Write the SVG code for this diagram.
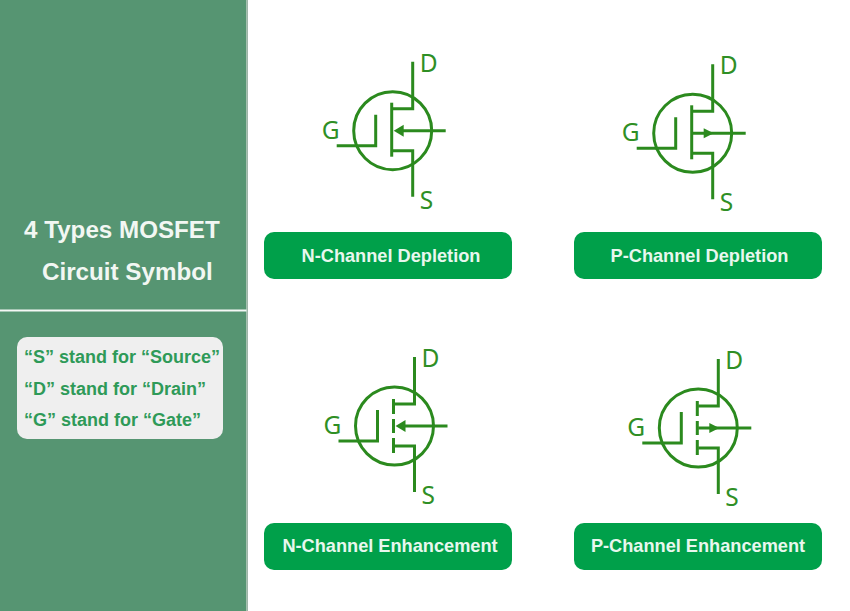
<svg xmlns="http://www.w3.org/2000/svg" width="850" height="611" viewBox="0 0 850 611">
<style>
.w{stroke:#2b8a1e;stroke-width:3;fill:none}
.a{fill:#2b8a1e}
.l{font-family:"Noto Sans","Liberation Sans",sans-serif;font-size:24.500px;fill:#2f8f25}
.b{fill:#00a04a}
.bt{font-family:"Liberation Sans",Arial,sans-serif;font-size:18.200px;font-weight:bold;fill:#e8f7ee;text-anchor:middle}
.t{font-family:"Liberation Sans",Arial,sans-serif;font-size:24.200px;font-weight:bold;fill:#f2f7f3}
.k{font-family:"Liberation Sans",Arial,sans-serif;font-size:18px;font-weight:bold;fill:#2e9a58}
</style>
<defs>
<g id="base">
<circle class="w" cx="0" cy="0" r="39"/>
<path class="w" d="M-17-16V15H-56"/>
<path class="w" d="M20-69V-22H0M0 20H20V66"/>
</g>
</defs>
<rect width="850" height="611" fill="#fff"/>
<g id="panel">
<rect width="246.500" height="611" fill="#569572"/>
<rect x="246.500" width="1.500" height="611" fill="#9fb5a8"/>
<rect y="309.500" width="246.500" height="2" fill="#f4f8f5"/>
<text class="t" x="24" y="238">4 Types MOSFET</text>
<text class="t" x="42" y="280">Circuit Symbol</text>
</g>
<g id="legend">
<rect x="17" y="337" width="206" height="102" rx="10" fill="#efefef"/>
<text class="k" x="24" y="363">“S” stand for “Source”</text>
<text class="k" x="24" y="395">“D” stand for “Drain”</text>
<text class="k" x="24" y="426">“G” stand for “Gate”</text>
</g>
<g id="n-depletion" transform="translate(392.700 130.700)">
<use href="#base"/>
<path class="w" d="M-1-28V26"/>
<path class="w" d="M5 0H53"/>
<path class="a" d="M1 0L11-6V6Z"/>
<text class="l" x="27" y="-59">D</text><text class="l" x="-71" y="8">G</text><text class="l" x="27" y="78">S</text>
</g>
<g id="p-depletion" transform="translate(692.700 133.300)">
<use href="#base"/>
<path class="w" d="M-1-28V26"/>
<path class="w" d="M0 0H53"/>
<path class="a" d="M21 0L11-5V5Z"/>
<text class="l" x="27" y="-59">D</text><text class="l" x="-71" y="8">G</text><text class="l" x="27" y="78">S</text>
</g>
<g id="n-enhancement" transform="translate(394.500 426)">
<use href="#base"/>
<path class="w" d="M-1-27V-12M-1-7V7M-1 12V27"/>
<path class="w" d="M5 0H53"/>
<path class="a" d="M1 0L11-6V6Z"/>
<text class="l" x="27" y="-59">D</text><text class="l" x="-71" y="8">G</text><text class="l" x="27" y="78">S</text>
</g>
<g id="p-enhancement" transform="translate(698.300 428)">
<use href="#base"/>
<path class="w" d="M-1-27V-12M-1-7V7M-1 12V27"/>
<path class="w" d="M0 0H53"/>
<path class="a" d="M21 0L11-5V5Z"/>
<text class="l" x="27" y="-59">D</text><text class="l" x="-71" y="8">G</text><text class="l" x="27" y="78">S</text>
</g>
<g id="btn-nd"><rect class="b" x="264" y="232" width="248" height="47" rx="10"/><text class="bt" x="391" y="262">N-Channel Depletion</text></g>
<g id="btn-pd"><rect class="b" x="574" y="232" width="248" height="47" rx="10"/><text class="bt" x="699.500" y="262">P-Channel Depletion</text></g>
<g id="btn-ne"><rect class="b" x="264" y="523" width="248" height="47" rx="10"/><text class="bt" x="390" y="552">N-Channel Enhancement</text></g>
<g id="btn-pe"><rect class="b" x="574" y="523" width="248" height="47" rx="10"/><text class="bt" x="698" y="552">P-Channel Enhancement</text></g>
</svg>
